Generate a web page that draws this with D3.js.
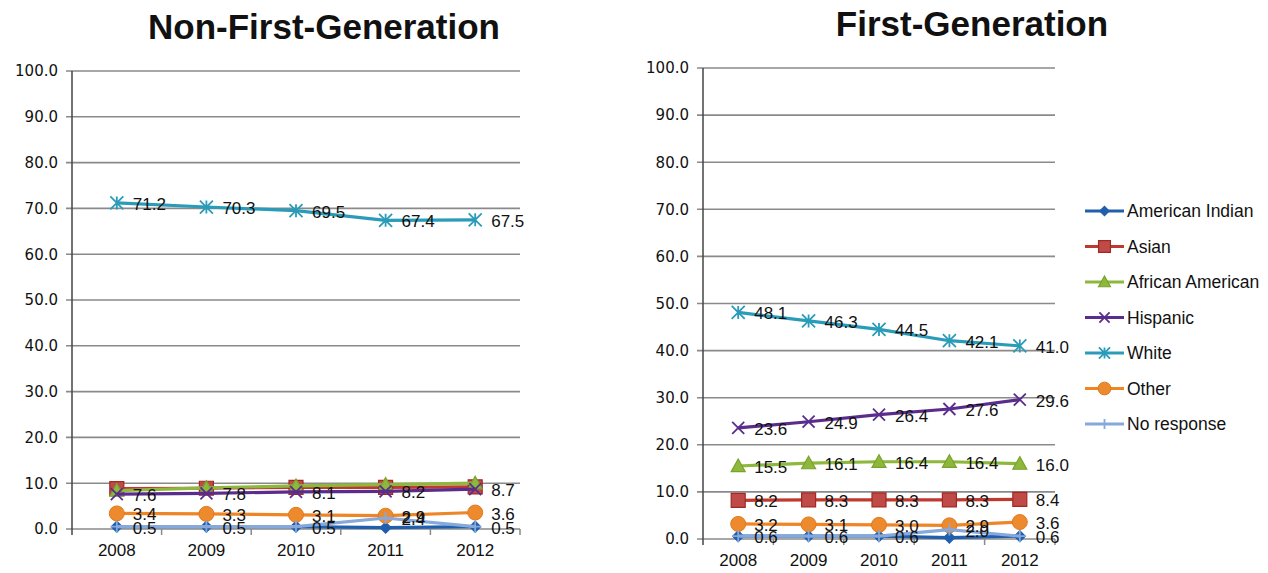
<!DOCTYPE html>
<html>
<head>
<meta charset="utf-8">
<script src="https://cdn.jsdelivr.net/npm/d3@7"></script>
<style>
  html, body { margin: 0; padding: 0; background: #fff; }
  svg { display: block; }
  text { font-family: "Liberation Sans", Arial, sans-serif; fill: #111; }
</style>
</head>
<body>
<svg id="chart" width="1268" height="573"></svg>
<script>
// Categories and tick values
const years = ["2008", "2009", "2010", "2011", "2012"];
const yTicks = [0, 10, 20, 30, 40, 50, 60, 70, 80, 90, 100];
const seriesNames = ["American Indian", "Asian", "African American", "Hispanic", "White", "Other", "No response"];

// Non-first-generation percentages
const nonFirstAmericanIndian = [0.5, 0.5, 0.5, 0.3, 0.5];
const nonFirstAsian = [8.8, 8.9, 9.1, 9.1, 9.2];
const nonFirstAfricanAmerican = [8.4, 9.0, 9.4, 9.7, 10.0];
const nonFirstHispanic = [7.6, 7.8, 8.1, 8.2, 8.7];
const nonFirstWhite = [71.2, 70.3, 69.5, 67.4, 67.5];
const nonFirstOther = [3.4, 3.3, 3.1, 2.9, 3.6];
const nonFirstNoResponse = [0.5, 0.5, 0.5, 2.4, 0.5];

// First-generation percentages
const firstAmericanIndian = [0.6, 0.6, 0.6, 0.3, 0.6];
const firstAsian = [8.2, 8.3, 8.3, 8.3, 8.4];
const firstAfricanAmerican = [15.5, 16.1, 16.4, 16.4, 16.0];
const firstHispanic = [23.6, 24.9, 26.4, 27.6, 29.6];
const firstWhite = [48.1, 46.3, 44.5, 42.1, 41.0];
const firstOther = [3.2, 3.1, 3.0, 2.9, 3.6];
const firstNoResponse = [0.6, 0.6, 0.6, 2.0, 0.6];

// Series styling: line colour, marker fill, marker stroke, marker type
const styles = {
  "American Indian": { line: "#1F5FAE", fill: "#1F5FAE", stroke: "#1F5FAE", marker: "diamond" },
  "Asian":           { line: "#C0392F", fill: "#BE4B48", stroke: "#A32822", marker: "square" },
  "African American":{ line: "#8DB83C", fill: "#8DB83C", stroke: "#7AA22E", marker: "triangle" },
  "Hispanic":        { line: "#5A2D8C", fill: "none",    stroke: "#5A2D8C", marker: "x" },
  "White":           { line: "#2A9BB8", fill: "none",    stroke: "#2A9BB8", marker: "star" },
  "Other":           { line: "#EE8526", fill: "#EE8A2E", stroke: "#E07A1E", marker: "circle" },
  "No response":     { line: "#86A8DA", fill: "none",    stroke: "#86A8DA", marker: "plus" }
};

function markerPath(type, s) {
  const h = s / 2;
  switch (type) {
    case "diamond": return `M0,${-h}L${h},0L0,${h}L${-h},0Z`;
    case "square": return `M${-h},${-h}H${h}V${h}H${-h}Z`;
    case "triangle": return `M0,${-h}L${h},${h * 0.8}L${-h},${h * 0.8}Z`;
    case "x": return `M${-h},${-h}L${h},${h}M${h},${-h}L${-h},${h}`;
    case "star": return `M${-h},${-h}L${h},${h}M${h},${-h}L${-h},${h}M0,${-h}V${h}`;
    case "plus": return `M${-h},0H${h}M0,${-h}V${h}`;
    default: return "";
  }
}

function drawMarker(g, type, st, x, y, size) {
  if (type === "circle") {
    g.append("circle").attr("cx", x).attr("cy", y).attr("r", size / 2)
      .attr("fill", st.fill).attr("stroke", st.stroke).attr("stroke-width", 1);
  } else {
    const filled = st.fill !== "none";
    g.append("path").attr("d", markerPath(type, size))
      .attr("transform", `translate(${x},${y})`)
      .attr("fill", filled ? st.fill : "none")
      .attr("stroke", st.stroke)
      .attr("stroke-width", filled ? 1.2 : 1.8);
  }
}

const markerSizes = { diamond: 11, square: 14, triangle: 14, x: 12, star: 13, circle: 15, plus: 12 };

const svg = d3.select("#chart");

function drawPanel(cfg) {
  const g = svg.append("g");
  const x = d3.scaleBand().domain(years).range([cfg.left, cfg.right]);
  const y = d3.scaleLinear().domain([0, 100]).range([cfg.bottom, cfg.top]);
  const cx = d => x(d) + x.bandwidth() / 2;

  // Title
  g.append("text")
    .attr("x", cfg.titleX).attr("y", cfg.titleY)
    .attr("text-anchor", "middle")
    .style("font-size", "35px").style("font-weight", "bold")
    .style("font-family", "'Liberation Sans', Arial, sans-serif")
    .text(cfg.title);

  // Horizontal gridlines
  g.append("g").selectAll("line").data(yTicks).join("line")
    .attr("x1", cfg.left - 6).attr("x2", cfg.right)
    .attr("y1", d => y(d)).attr("y2", d => y(d))
    .attr("stroke", "#8a8a8a").attr("stroke-width", 1.6);

  // Y axis labels via d3 axis
  const yAxis = d3.axisLeft(y).tickValues(yTicks).tickFormat(d3.format(".1f")).tickSize(0).tickPadding(14);
  const ya = g.append("g").attr("transform", `translate(${cfg.left},0)`).call(yAxis);
  ya.select(".domain").remove();
  ya.selectAll("text").style("font-size", "15px").style("font-family", "'DejaVu Sans', Verdana, sans-serif").attr("fill", "#111");

  // Vertical axis line
  g.append("line").attr("x1", cfg.left).attr("x2", cfg.left)
    .attr("y1", cfg.top).attr("y2", cfg.bottom + 6)
    .attr("stroke", "#444").attr("stroke-width", 1.5);

  // Category tick marks below the baseline
  const bounds = years.slice(1).map(d => x(d));
  bounds.push(cfg.right);
  g.append("g").selectAll("line").data(bounds).join("line")
    .attr("x1", d => d).attr("x2", d => d)
    .attr("y1", cfg.bottom).attr("y2", cfg.bottom + 6)
    .attr("stroke", "#8a8a8a").attr("stroke-width", 1.5);

  // X axis labels
  const xAxis = d3.axisBottom(x).tickSize(0).tickPadding(15);
  const xa = g.append("g").attr("transform", `translate(0,${cfg.bottom})`).call(xAxis);
  xa.select(".domain").remove();
  xa.selectAll("text").style("font-size", "17px").style("font-family", "'Liberation Sans', Arial, sans-serif").attr("fill", "#111");

  const line = d3.line().x(d => cx(d.year)).y(d => y(d.value));

  // Series lines and markers
  cfg.series.forEach(s => {
    const st = styles[s.name];
    const pts = years.map((yr, i) => ({ year: yr, value: s.values[i] }));
    const sg = g.append("g");
    sg.append("path").datum(pts).attr("d", line)
      .attr("fill", "none").attr("stroke", st.line).attr("stroke-width", 3.2)
      .attr("stroke-linejoin", "round");
    pts.forEach(p => drawMarker(sg, st.marker, st, cx(p.year), y(p.value), markerSizes[st.marker]));
  });

  // Data labels to the right of each point
  cfg.series.filter(s => s.labeled).forEach(s => {
    years.forEach((yr, i) => {
      g.append("text")
        .attr("x", cx(yr) + 16).attr("y", y(s.values[i]) + 7)
        .style("font-size", "17px")
        .style("font-family", "'Liberation Sans', Arial, sans-serif")
        .attr("fill", "#111")
        .text(d3.format(".1f")(s.values[i]));
    });
  });
}

drawPanel({
  title: "Non-First-Generation", titleX: 324, titleY: 39,
  left: 72, right: 520, top: 71, bottom: 529,
  series: [
    { name: "American Indian", values: nonFirstAmericanIndian, labeled: false },
    { name: "Asian", values: nonFirstAsian, labeled: false },
    { name: "African American", values: nonFirstAfricanAmerican, labeled: false },
    { name: "Hispanic", values: nonFirstHispanic, labeled: true },
    { name: "White", values: nonFirstWhite, labeled: true },
    { name: "Other", values: nonFirstOther, labeled: true },
    { name: "No response", values: nonFirstNoResponse, labeled: true }
  ]
});

drawPanel({
  title: "First-Generation", titleX: 972, titleY: 36,
  left: 703, right: 1055, top: 68, bottom: 539,
  series: [
    { name: "American Indian", values: firstAmericanIndian, labeled: false },
    { name: "Asian", values: firstAsian, labeled: true },
    { name: "African American", values: firstAfricanAmerican, labeled: true },
    { name: "Hispanic", values: firstHispanic, labeled: true },
    { name: "White", values: firstWhite, labeled: true },
    { name: "Other", values: firstOther, labeled: true },
    { name: "No response", values: firstNoResponse, labeled: true }
  ]
});

// Legend
const legend = svg.append("g");
const legendY = d3.scalePoint().domain(seriesNames).range([211, 424]);
seriesNames.forEach(name => {
  const st = styles[name];
  const ly = legendY(name);
  legend.append("line").attr("x1", 1085).attr("x2", 1124).attr("y1", ly).attr("y2", ly)
    .attr("stroke", st.line).attr("stroke-width", 3);
  drawMarker(legend, st.marker, st, 1104.5, ly, markerSizes[st.marker] * 0.85);
  legend.append("text").attr("x", 1127).attr("y", ly + 6)
    .style("font-size", "17.5px")
    .style("font-family", "'Liberation Sans', Arial, sans-serif")
    .attr("fill", "#111")
    .text(name);
});
</script>
</body>
</html>
